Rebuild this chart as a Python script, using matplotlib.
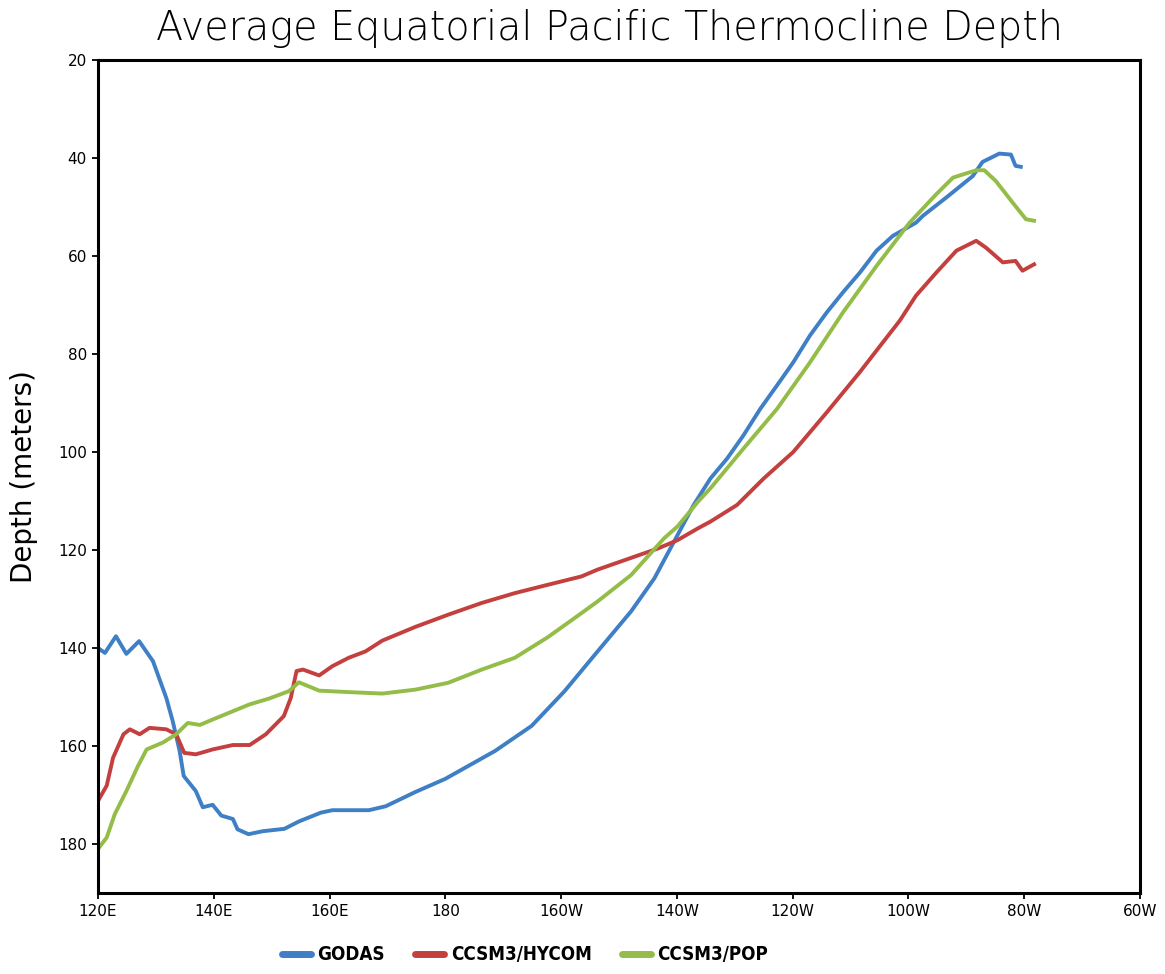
import matplotlib
matplotlib.use("Agg")
import matplotlib.pyplot as plt
from matplotlib.font_manager import FontProperties

# ---- data (longitude in degrees east, depth in meters) ----
godas_lon = [120, 121.2, 123.1, 124.9, 127.1, 129.5, 131.8, 132.9, 134.1, 134.8, 136.9,
             138.1, 139.8, 141.3, 143.3, 144.1, 146, 148.4, 152.2, 154.7, 158.5, 160.5,
             166.8, 169.7, 174.8, 180, 188.6, 194.9, 200.6, 206.3, 212.1, 216.1, 219.5,
             222.9, 225.8, 228.7, 231.5, 234.4, 237.3, 240.1, 243, 245.9, 248.7, 251.6,
             254.5, 257.3, 261.3, 262.5, 266.5, 271.1, 272.8, 275.7, 277.7, 278.5, 279.4]
godas_dep = [140, 141, 137.6, 141.2, 138.6, 142.7, 150.2, 154.9, 161, 166.1, 169.2,
             172.5, 172, 174.2, 174.9, 177, 178, 177.4, 176.9, 175.4, 173.6, 173.1,
             173.1, 172.3, 169.4, 166.7, 161, 155.9, 148.8, 140.7, 132.5, 125.8, 118.3,
             110.8, 105.4, 101.3, 96.6, 91.2, 86.4, 81.7, 76.2, 71.5, 67.4, 63.4,
             58.9, 55.9, 53.2, 51.8, 48.1, 43.7, 40.8, 39.1, 39.3, 41.6, 41.8]

hycom_lon = [120, 121.5, 122.6, 124.4, 125.5, 127.2, 128.9, 131.8, 133.5, 134.9, 136.9,
             139.8, 143.3, 146.2, 149, 152.1, 153.3, 154.3, 155.4, 158.2, 160.5, 163.3,
             166.2, 169.1, 174.8, 180.5, 186.3, 192, 197.7, 203.5, 206.3, 216.7, 220.1,
             223.6, 225.8, 230.4, 235, 240.1, 245.9, 251.6, 255.6, 258.5, 261.3, 264.8,
             268.3, 271.7, 273.4, 276.3, 278.5, 279.7, 281.7]
hycom_dep = [171.2, 168.1, 162.4, 157.6, 156.6, 157.6, 156.3, 156.6, 157.6, 161.4, 161.7,
             160.7, 159.8, 159.8, 157.6, 153.9, 150.2, 144.7, 144.4, 145.6, 143.7, 142,
             140.7, 138.5, 135.7, 133.2, 130.8, 128.8, 127.1, 125.4, 124, 119.7, 118,
             115.6, 114.2, 110.8, 105.4, 100, 91.9, 83.7, 77.6, 73.2, 68.1, 63.4,
             58.9, 56.9, 58.3, 61.3, 61, 63, 61.7]

pop_lon = [120, 121.5, 122.9, 124.9, 126.9, 128.4, 131.2, 133.5, 135.5, 137.6, 139.8,
           143.3, 146.2, 149.6, 153, 154.7, 158.2, 163.3, 169.1, 174.8, 180.5, 186.3,
           192, 197.7, 203.5, 206.3, 212.1, 217.8, 220.1, 223.6, 225.8, 231.5, 237.3,
           243, 248.7, 254.5, 260.2, 264.8, 267.7, 271.7, 273.1, 275.1, 278, 280.3, 281.7]
pop_dep = [181, 178.7, 173.9, 169.2, 164.1, 160.7, 159.3, 157.6, 155.3, 155.7, 154.6,
           152.9, 151.5, 150.3, 148.8, 147, 148.7, 149, 149.3, 148.5, 147.1, 144.4,
           142, 137.8, 132.9, 130.5, 125.1, 117.6, 115.2, 110.2, 107.4, 99.3, 91.2,
           81.7, 71.5, 62, 53.2, 47.4, 44, 42.5, 42.5, 44.7, 49.1, 52.5, 52.8]

series_names = ["GODAS", "CCSM3/HYCOM", "CCSM3/POP"]
series_colors = ["#3f7fc6", "#c4403f", "#93bd48"]

xtick_pos = [120, 140, 160, 180, 200, 220, 240, 260, 280, 300]
xtick_lab = ["120E", "140E", "160E", "180", "160W", "140W", "120W", "100W", "80W", "60W"]
ytick_pos = [20, 40, 60, 80, 100, 120, 140, 160, 180]

W, H = 1165, 974
fig = plt.figure(figsize=(W / 100, H / 100), dpi=100)
ax = fig.add_axes([98 / W, 1 - 893 / H, (1140 - 98) / W, (893 - 60) / H])

for lon, dep, name, col in zip([godas_lon, hycom_lon, pop_lon],
                               [godas_dep, hycom_dep, pop_dep],
                               series_names, series_colors):
    ax.plot(lon, dep, color=col, lw=2.8, label=name, solid_joinstyle="round")

ax.set_xlim(120, 300)
ax.set_ylim(190, 20)
ax.set_xticks(xtick_pos)
ax.set_xticklabels(xtick_lab)
ax.set_yticks(ytick_pos)
for s in ax.spines.values():
    s.set_linewidth(2.2)
ax.tick_params(direction="out", length=4, width=1.3, labelsize=11, pad=4)

ax.set_ylabel("Depth (meters)", fontsize=20, labelpad=14)
fig.text(609 / W, 1 - 28 / H, "Average Equatorial Pacific Thermocline Depth",
         ha="center", va="center", fontsize=28.5, fontweight="light")

leg_font = FontProperties(family="DejaVu Sans", stretch="condensed",
                          weight="bold", size=13.5)
leg = fig.legend(loc="center", bbox_to_anchor=(525 / W, 1 - 955 / H), ncol=3,
                 frameon=False, prop=leg_font, handlelength=1.55, handletextpad=0.35,
                 columnspacing=1.6)
for line in leg.get_lines():
    line.set_linewidth(5)
    line.set_solid_capstyle("round")

fig.savefig("out.png", dpi=100)
